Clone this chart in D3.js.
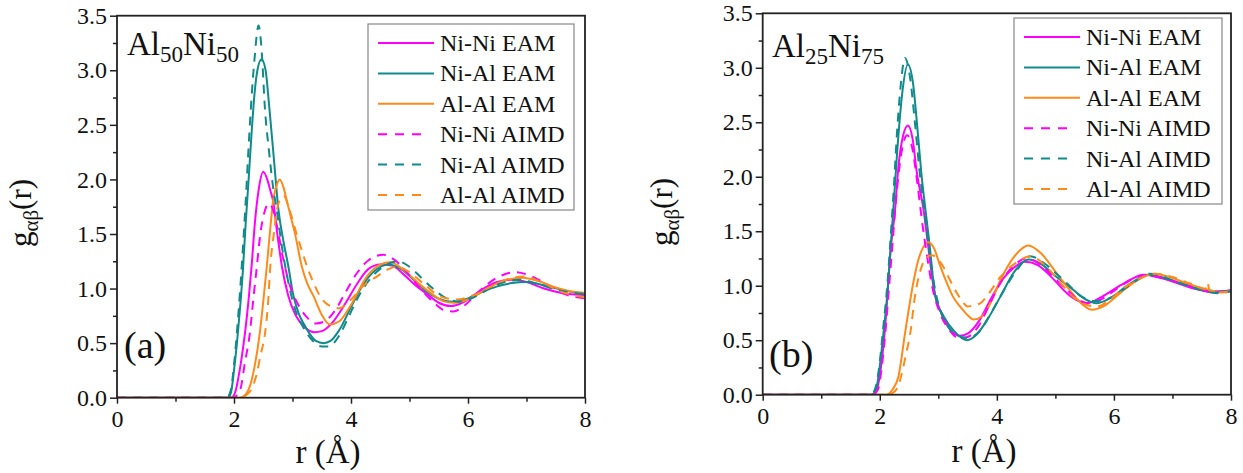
<!DOCTYPE html>
<html>
<head>
<meta charset="utf-8">
<script src="https://cdn.jsdelivr.net/npm/d3@7"></script>
<style>
  body { margin: 0; background: #fff; }
  text { font-family: "Liberation Serif", "Tinos", "Times New Roman", "DejaVu Serif", serif; fill: #111; }
</style>
</head>
<body>
<svg id="chart" width="1243" height="473"></svg>
<script>
// tick values
const xTicks = [0, 2, 4, 6, 8];
const xMinor = [1, 3, 5, 7];
const yTicks = [0, 0.5, 1.0, 1.5, 2.0, 2.5, 3.0, 3.5];
const yMinor = [0.25, 0.75, 1.25, 1.75, 2.25, 2.75, 3.25];

const seriesNames = ['Ni-Ni EAM', 'Ni-Al EAM', 'Al-Al EAM', 'Ni-Ni AIMD', 'Ni-Al AIMD', 'Al-Al AIMD'];

// (a) Al50Ni50 as [r, g]
const aNiNiEAM = [[0,0],[1.95,0],[2.02,0.05],[2.08,0.2],[2.14,0.4],[2.19,0.6],[2.25,0.9],[2.3,1.2],[2.36,1.62],[2.42,1.9],[2.5,2.07],[2.58,1.98],[2.62,1.9],[2.67,1.8],[2.74,1.5],[2.82,1.2],[2.93,0.93],[3.05,0.76],[3.2,0.65],[3.38,0.6],[3.5,0.61],[3.7,0.7],[3.9,0.86],[4.1,1.04],[4.3,1.18],[4.5,1.22],[4.7,1.21],[4.9,1.13],[5.1,1.03],[5.3,0.95],[5.5,0.87],[5.7,0.84],[5.9,0.87],[6.1,0.94],[6.3,1.01],[6.5,1.06],[6.75,1.08],[7.0,1.06],[7.3,1.0],[7.6,0.96],[8.0,0.94]];
const aNiAlEAM = [[0,0],[1.9,0],[1.95,0.05],[2.0,0.25],[2.05,0.5],[2.1,0.8],[2.15,1.15],[2.2,1.6],[2.25,2.0],[2.3,2.42],[2.35,2.78],[2.4,3.0],[2.47,3.1],[2.54,3.0],[2.6,2.68],[2.68,2.2],[2.76,1.72],[2.85,1.42],[2.93,1.2],[3.01,0.95],[3.1,0.78],[3.2,0.67],[3.3,0.58],[3.4,0.52],[3.53,0.5],[3.65,0.52],[3.8,0.62],[4.0,0.83],[4.2,1.03],[4.4,1.16],[4.64,1.22],[4.85,1.18],[5.05,1.09],[5.25,0.99],[5.45,0.92],[5.75,0.88],[6.0,0.91],[6.25,0.97],[6.5,1.02],[6.75,1.05],[7.0,1.06],[7.3,1.03],[7.6,0.99],[8.0,0.95]];
const aAlAlEAM = [[0,0],[2.1,0],[2.2,0.03],[2.28,0.12],[2.35,0.28],[2.44,0.59],[2.5,0.88],[2.56,1.2],[2.62,1.55],[2.67,1.81],[2.72,1.93],[2.78,2.0],[2.85,1.92],[2.9,1.81],[2.97,1.66],[3.04,1.51],[3.16,1.2],[3.25,1.05],[3.36,0.93],[3.5,0.76],[3.64,0.67],[3.8,0.7],[4.0,0.85],[4.27,1.11],[4.5,1.22],[4.67,1.24],[4.9,1.17],[5.15,1.05],[5.41,0.94],[5.6,0.88],[5.75,0.87],[6.0,0.9],[6.3,0.99],[6.6,1.07],[6.94,1.1],[7.2,1.07],[7.5,1.01],[7.8,0.97],[8.0,0.96]];
const aNiNiAIMD = [[0,0],[1.95,0],[2.05,0.02],[2.12,0.1],[2.18,0.3],[2.27,0.59],[2.33,0.9],[2.39,1.2],[2.45,1.5],[2.52,1.7],[2.6,1.78],[2.68,1.7],[2.76,1.5],[2.85,1.25],[2.96,1.02],[3.1,0.85],[3.24,0.74],[3.4,0.68],[3.55,0.7],[3.73,0.8],[3.9,0.96],[4.1,1.14],[4.3,1.26],[4.55,1.31],[4.75,1.26],[5.0,1.12],[5.2,0.99],[5.4,0.88],[5.6,0.8],[5.75,0.79],[5.95,0.85],[6.2,0.98],[6.5,1.1],[6.8,1.15],[7.1,1.11],[7.4,1.02],[7.7,0.94],[8.0,0.91]];
const aNiAlAIMD = [[0,0],[1.88,0],[1.95,0.08],[2.0,0.3],[2.05,0.6],[2.1,0.95],[2.15,1.35],[2.2,1.8],[2.25,2.3],[2.3,2.75],[2.35,3.1],[2.42,3.41],[2.47,3.2],[2.53,2.64],[2.6,2.25],[2.67,1.92],[2.73,1.72],[2.82,1.38],[2.92,1.08],[3.05,0.8],[3.2,0.63],[3.35,0.52],[3.5,0.47],[3.62,0.47],[3.8,0.57],[3.95,0.73],[4.1,0.9],[4.3,1.07],[4.55,1.2],[4.8,1.25],[5.0,1.2],[5.2,1.1],[5.4,1.0],[5.6,0.92],[5.85,0.88],[6.1,0.92],[6.4,1.01],[6.7,1.07],[6.9,1.08],[7.2,1.04],[7.5,0.99],[8.0,0.95]];
const aAlAlAIMD = [[0,0],[2.1,0],[2.2,0.02],[2.3,0.08],[2.38,0.2],[2.45,0.38],[2.53,0.59],[2.58,0.85],[2.62,1.2],[2.68,1.5],[2.76,1.78],[2.85,1.85],[2.95,1.72],[3.07,1.5],[3.17,1.33],[3.27,1.17],[3.37,1.04],[3.47,0.93],[3.61,0.85],[3.8,0.82],[4.0,0.9],[4.2,1.02],[4.44,1.11],[4.65,1.18],[4.78,1.2],[5.0,1.15],[5.25,1.04],[5.52,0.93],[5.8,0.9],[6.1,0.94],[6.4,1.02],[6.7,1.09],[6.95,1.11],[7.25,1.06],[7.6,0.97],[8.0,0.92]];

// (b) Al25Ni75
const bNiNiEAM = [[0,0],[1.85,0],[1.95,0.05],[2.02,0.25],[2.08,0.55],[2.13,0.9],[2.18,1.3],[2.26,1.69],[2.32,2.1],[2.4,2.38],[2.48,2.47],[2.56,2.35],[2.63,2.05],[2.75,1.69],[2.83,1.35],[2.93,0.95],[3.05,0.75],[3.2,0.6],[3.37,0.54],[3.5,0.56],[3.7,0.68],[3.9,0.88],[4.1,1.06],[4.3,1.17],[4.48,1.22],[4.7,1.19],[4.95,1.07],[5.2,0.93],[5.4,0.86],[5.54,0.84],[5.8,0.9],[6.1,1.0],[6.3,1.06],[6.5,1.1],[6.8,1.07],[7.1,1.02],[7.4,0.97],[7.7,0.94],[8.0,0.96]];
const bNiAlEAM = [[0,0],[1.87,0],[1.95,0.08],[2.0,0.26],[2.06,0.55],[2.12,0.87],[2.18,1.3],[2.23,1.69],[2.3,2.25],[2.38,2.75],[2.48,3.03],[2.57,2.85],[2.65,2.4],[2.72,1.98],[2.78,1.7],[2.85,1.38],[2.95,0.9],[3.09,0.72],[3.26,0.59],[3.49,0.5],[3.65,0.55],[3.85,0.7],[4.06,0.9],[4.3,1.13],[4.54,1.24],[4.75,1.2],[5.0,1.09],[5.31,0.96],[5.5,0.88],[5.71,0.84],[5.95,0.89],[6.2,0.99],[6.4,1.06],[6.56,1.1],[6.8,1.08],[7.1,1.03],[7.4,0.98],[7.6,0.95],[8.0,0.95]];
const bAlAlEAM = [[0,0],[2.1,0],[2.16,0.01],[2.22,0.05],[2.32,0.17],[2.43,0.56],[2.5,0.8],[2.57,1.02],[2.65,1.22],[2.73,1.34],[2.83,1.4],[2.93,1.34],[3.02,1.2],[3.15,1.02],[3.25,0.9],[3.37,0.81],[3.5,0.73],[3.6,0.69],[3.75,0.72],[3.9,0.85],[4.06,1.05],[4.3,1.27],[4.54,1.37],[4.75,1.3],[5.0,1.13],[5.2,0.99],[5.4,0.86],[5.62,0.78],[5.85,0.82],[6.1,0.93],[6.4,1.05],[6.68,1.11],[6.95,1.08],[7.25,1.02],[7.55,0.97],[7.85,0.94],[8.0,0.95]];
const bNiNiAIMD = [[0,0],[1.88,0],[1.97,0.05],[2.04,0.28],[2.1,0.6],[2.16,1.0],[2.22,1.4],[2.28,1.8],[2.35,2.15],[2.47,2.38],[2.56,2.25],[2.64,1.95],[2.72,1.6],[2.8,1.3],[2.9,0.98],[3.02,0.76],[3.18,0.6],[3.35,0.52],[3.5,0.53],[3.7,0.64],[3.9,0.86],[4.1,1.06],[4.3,1.19],[4.5,1.25],[4.7,1.21],[4.95,1.09],[5.2,0.96],[5.4,0.87],[5.58,0.84],[5.8,0.88],[6.1,0.99],[6.35,1.07],[6.55,1.1],[6.85,1.07],[7.15,1.02],[7.45,0.97],[7.75,0.94],[8.0,0.96]];
const bNiAlAIMD = [[0,0],[1.85,0],[1.93,0.07],[2.0,0.3],[2.06,0.62],[2.12,0.95],[2.18,1.4],[2.24,1.9],[2.3,2.45],[2.36,2.85],[2.43,3.09],[2.52,2.9],[2.6,2.5],[2.68,2.05],[2.77,1.65],[2.85,1.3],[2.95,0.95],[3.05,0.75],[3.2,0.6],[3.35,0.54],[3.5,0.52],[3.7,0.58],[3.9,0.75],[4.1,0.94],[4.35,1.15],[4.57,1.27],[4.8,1.21],[5.0,1.12],[5.2,1.02],[5.45,0.9],[5.65,0.86],[5.9,0.88],[6.2,0.98],[6.45,1.07],[6.6,1.11],[6.9,1.07],[7.2,1.01],[7.5,0.96],[7.8,0.93],[8.0,0.95]];
const bAlAlAIMD = [[0,0],[2.15,0],[2.2,0.01],[2.3,0.06],[2.4,0.25],[2.46,0.4],[2.52,0.56],[2.6,0.9],[2.7,1.15],[2.8,1.26],[2.89,1.28],[3.0,1.24],[3.09,1.17],[3.2,1.05],[3.32,0.93],[3.42,0.85],[3.5,0.81],[3.6,0.82],[3.72,0.84],[3.85,0.92],[4.06,1.08],[4.3,1.2],[4.57,1.27],[4.8,1.2],[5.05,1.05],[5.3,0.9],[5.5,0.83],[5.71,0.81],[5.95,0.88],[6.2,0.99],[6.45,1.07],[6.7,1.11],[7.0,1.08],[7.3,1.02],[7.56,0.97],[7.6,1.03],[7.63,0.96],[7.85,0.94],[8.0,0.95]];

const colors = ['#ff00ff', '#108a8a', '#ff8a1c', '#ff00ff', '#108a8a', '#ff8a1c'];
const dashed = [false, false, false, true, true, true];
const serifFont = '"Liberation Serif", "Tinos", "Times New Roman", "DejaVu Serif", serif';

const panels = [
  {
    left: 117, right: 585, top: 15.7, bottom: 397.7,
    comp: ['Al', '50', 'Ni', '50'], titleX: 127, titleY: 55,
    tag: '(a)', tagX: 124, tagY: 358,
    legend: { x: 368, y: 24, w: 206, h: 186 },
    yLabelX: 31, yLabelY: 213, xLabelX: 328, xLabelY: 463,
    series: [aNiNiEAM, aNiAlEAM, aAlAlEAM, aNiNiAIMD, aNiAlAIMD, aAlAlAIMD]
  },
  {
    left: 762.7, right: 1231, top: 13.3, bottom: 394.7,
    comp: ['Al', '25', 'Ni', '75'], titleX: 772, titleY: 57,
    tag: '(b)', tagX: 769, tagY: 367,
    legend: { x: 1014, y: 18, w: 208, h: 186 },
    yLabelX: 672, yLabelY: 212, xLabelX: 984, xLabelY: 462,
    series: [bNiNiEAM, bNiAlEAM, bAlAlEAM, bNiNiAIMD, bNiAlAIMD, bAlAlAIMD]
  }
];

const svg = d3.select('#chart');

function drawPanel(p, idx) {
  const x = d3.scaleLinear().domain([0, 8]).range([p.left, p.right]);
  const y = d3.scaleLinear().domain([0, 3.5]).range([p.bottom, p.top]);
  const g = svg.append('g').attr('font-family', serifFont);

  const clipId = 'clip' + idx;
  g.append('clipPath').attr('id', clipId)
    .append('rect')
    .attr('x', p.left).attr('y', p.top)
    .attr('width', p.right - p.left).attr('height', p.bottom - p.top);

  // curves
  const line = d3.line()
    .x(d => x(d[0]))
    .y(d => y(d[1]))
    .curve(d3.curveMonotoneX);

  const curves = g.append('g').attr('clip-path', `url(#${clipId})`);
  p.series.forEach((s, i) => {
    curves.append('path')
      .datum(s)
      .attr('d', line)
      .attr('fill', 'none')
      .attr('stroke', colors[i])
      .attr('stroke-width', 2)
      .attr('stroke-dasharray', dashed[i] ? '9,7' : null);
  });

  // axes
  const axisStyle = sel => {
    sel.attr('font-family', serifFont);
    sel.select('.domain').remove();
    sel.selectAll('line').attr('stroke', '#222').attr('stroke-width', 1.5);
    sel.selectAll('text').attr('font-size', 24).attr('fill', '#111');
  };
  g.append('g').attr('transform', `translate(${p.left},0)`)
    .call(d3.axisLeft(y).tickValues(yTicks).tickSize(7).tickPadding(3).tickFormat(d3.format('.1f')))
    .call(axisStyle);
  g.append('g').attr('transform', `translate(${p.left},0)`)
    .call(d3.axisLeft(y).tickValues(yMinor).tickSize(4).tickFormat(''))
    .call(axisStyle);
  g.append('g').attr('transform', `translate(0,${p.bottom})`)
    .call(d3.axisBottom(x).tickValues(xTicks).tickSize(6).tickPadding(6).tickFormat(d3.format('d')))
    .call(axisStyle);
  g.append('g').attr('transform', `translate(0,${p.bottom})`)
    .call(d3.axisBottom(x).tickValues(xMinor).tickSize(4).tickFormat(''))
    .call(axisStyle);

  // frame
  g.append('rect')
    .attr('x', p.left).attr('y', p.top)
    .attr('width', p.right - p.left).attr('height', p.bottom - p.top)
    .attr('fill', 'none').attr('stroke', '#222').attr('stroke-width', 1.8);

  // composition title
  const t = g.append('text').attr('x', p.titleX).attr('y', p.titleY).attr('font-size', 33);
  t.append('tspan').text(p.comp[0]);
  t.append('tspan').attr('font-size', 23).attr('dy', 7).text(p.comp[1]);
  t.append('tspan').attr('dy', -7).text(p.comp[2]);
  t.append('tspan').attr('font-size', 23).attr('dy', 7).text(p.comp[3]);

  g.append('text').attr('x', p.tagX).attr('y', p.tagY).attr('font-size', 38).text(p.tag);

  // axis labels
  const yl = g.append('text')
    .attr('transform', `translate(${p.yLabelX},${p.yLabelY}) rotate(-90)`)
    .attr('text-anchor', 'middle').attr('font-size', 31);
  yl.append('tspan').text('g');
  yl.append('tspan').attr('font-size', 21).attr('dy', 7).text('αβ');
  yl.append('tspan').attr('dy', -7).text('(r)');

  g.append('text').attr('x', p.xLabelX).attr('y', p.xLabelY)
    .attr('text-anchor', 'middle').attr('font-size', 33).text('r (Å)');

  // legend
  const L = p.legend;
  const lg = g.append('g');
  lg.append('rect').attr('x', L.x).attr('y', L.y).attr('width', L.w).attr('height', L.h)
    .attr('fill', '#fff').attr('stroke', '#888').attr('stroke-width', 1.2);
  seriesNames.forEach((name, i) => {
    const cy = L.y + 19 + i * 30.4;
    lg.append('line')
      .attr('x1', L.x + 10).attr('x2', L.x + (dashed[i] ? 56 : 66))
      .attr('y1', cy).attr('y2', cy)
      .attr('stroke', colors[i]).attr('stroke-width', 2)
      .attr('stroke-dasharray', dashed[i] ? '9,8' : null);
    lg.append('text').attr('x', L.x + 72).attr('y', cy + 8)
      .attr('font-size', 24).text(name);
  });
}

panels.forEach(drawPanel);
</script>
</body>
</html>
